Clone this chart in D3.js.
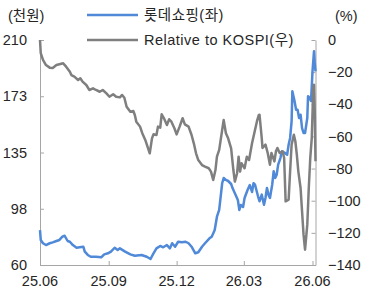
<!DOCTYPE html>
<meta charset="utf-8">
<style>
  body { margin: 0; background: #fff; }
  text { font-family: "Liberation Sans", Arial, "Noto Sans CJK KR", sans-serif; fill: #262626; }
  .axis .domain, .axis line { stroke: #a6a6a6; }
</style>
<svg width="367" height="291"></svg>
<script src="https://d3js.org/d3.v7.min.js"></script>
<script>

// 롯데쇼핑 share price (천원), left axis
var priceDates = ["2025-06-01","2025-06-02","2025-06-05","2025-06-09","2025-06-14","2025-06-18","2025-06-23","2025-06-27",
  "2025-07-01","2025-07-04","2025-07-08","2025-07-11","2025-07-15","2025-07-20","2025-07-24","2025-07-29","2025-07-31",
  "2025-08-04","2025-08-08","2025-08-15","2025-08-22","2025-08-26","2025-08-31","2025-09-04","2025-09-09","2025-09-13",
  "2025-09-16","2025-09-23","2025-09-30","2025-10-06","2025-10-15","2025-10-22","2025-10-27","2025-10-31","2025-11-04",
  "2025-11-09","2025-11-13","2025-11-18","2025-11-22","2025-11-25","2025-11-29","2025-12-03","2025-12-08","2025-12-13",
  "2025-12-17","2025-12-21","2025-12-26","2025-12-30","2026-01-04","2026-01-08","2026-01-14","2026-01-17","2026-01-21",
  "2026-01-24","2026-01-27","2026-01-31","2026-02-02","2026-02-05","2026-02-08","2026-02-12","2026-02-14","2026-02-17",
  "2026-02-21","2026-02-23","2026-02-25","2026-02-28","2026-03-02","2026-03-06","2026-03-09","2026-03-12","2026-03-14",
  "2026-03-16","2026-03-20","2026-03-22","2026-03-25","2026-03-28","2026-03-30","2026-04-01","2026-04-03","2026-04-05",
  "2026-04-08","2026-04-10","2026-04-12","2026-04-14","2026-04-16","2026-04-19","2026-04-21","2026-04-25","2026-04-28",
  "2026-04-30","2026-05-02","2026-05-04","2026-05-05","2026-05-08","2026-05-10","2026-05-12","2026-05-14","2026-05-16",
  "2026-05-18","2026-05-20","2026-05-22","2026-05-25","2026-05-26","2026-05-28","2026-05-30","2026-06-01","2026-06-03",
  "2026-06-04","2026-06-05"];
var priceValues = [83.3,76.7,74.5,73.3,74.5,75.1,76.0,76.7,
  78.9,79.5,76.0,75.5,73.3,71.5,71.8,72.2,68.9,
  66.7,65.5,65.5,65.1,67.1,67.8,68.9,71.5,70.0,
  71.1,68.9,67.1,66.2,66.7,65.5,64.0,67.8,71.1,
  72.7,71.8,73.3,71.1,74.5,72.2,75.5,75.1,75.5,
  74.5,72.2,67.8,68.5,72.2,74.5,77.8,78.9,83.3,
  92.2,96.7,114.5,118.0,116.7,116.0,114.0,111.1,107.8,
  103.3,96.7,100.0,98.7,104.7,110.0,113.3,108.7,114.5,
  113.5,105.8,102.5,106.9,100.2,104.7,111.3,106.9,104.7,
  113.5,122.5,118.0,120.2,126.9,131.3,135.8,134.7,133.5,
  140.2,144.7,155.8,175.8,169.1,163.5,163.5,158.0,160.2,
  151.3,148.0,148.0,158.0,172.5,171.5,169.3,189.1,202.5,
  194.7,189.1];

// Relative to KOSPI (%), right axis
var relDates = ["2025-06-01","2025-06-02","2025-06-05","2025-06-09","2025-06-14","2025-06-18","2025-06-23","2025-06-27",
  "2025-07-02","2025-07-06","2025-07-11","2025-07-13","2025-07-17","2025-07-22","2025-07-25","2025-07-28","2025-08-02",
  "2025-08-06","2025-08-11","2025-08-15","2025-08-20","2025-08-24","2025-08-29","2025-09-02","2025-09-07","2025-09-11",
  "2025-09-16","2025-09-19","2025-09-22","2025-09-25","2025-09-30","2025-10-04","2025-10-06","2025-10-08","2025-10-13",
  "2025-10-16","2025-10-20","2025-10-23","2025-10-26","2025-10-29","2025-10-31","2025-11-04","2025-11-06","2025-11-09",
  "2025-11-11","2025-11-14","2025-11-18","2025-11-21","2025-11-24","2025-11-28","2025-12-01","2025-12-05","2025-12-09",
  "2025-12-12","2025-12-17","2025-12-21","2025-12-24","2025-12-27","2025-12-30","2026-01-04","2026-01-08","2026-01-13",
  "2026-01-16","2026-01-19","2026-01-22","2026-01-24","2026-01-27","2026-01-31","2026-02-02","2026-02-05","2026-02-08",
  "2026-02-12","2026-02-15","2026-02-17","2026-02-20","2026-02-22","2026-02-24","2026-02-26","2026-03-02","2026-03-05",
  "2026-03-08","2026-03-12","2026-03-15","2026-03-19","2026-03-21","2026-03-22","2026-03-25","2026-03-26","2026-03-30",
  "2026-04-02","2026-04-05","2026-04-07","2026-04-11","2026-04-13","2026-04-15","2026-04-18","2026-04-22","2026-04-24",
  "2026-04-26","2026-04-30","2026-05-02","2026-05-04","2026-05-07","2026-05-09","2026-05-11","2026-05-13","2026-05-16",
  "2026-05-18","2026-05-20","2026-05-22","2026-05-25","2026-05-27","2026-05-29","2026-05-31","2026-06-02","2026-06-03",
  "2026-06-04","2026-06-05"];
var relValues = [0,-8.1,-12.4,-15.6,-17.2,-17.4,-15.6,-15.1,
  -14.5,-16.6,-19.7,-21.8,-22.8,-24.9,-23.8,-25.9,-28.0,
  -31.1,-30.1,-31.1,-32.2,-31.1,-33.2,-35.3,-33.8,-35.3,
  -35.7,-34.2,-35.9,-41.5,-44.6,-44.2,-46.7,-50.8,-53.9,
  -58.0,-62.2,-66.4,-70.5,-61.2,-58.7,-59.1,-53.9,-54.6,
  -46.2,-48.7,-52.9,-49.3,-50.8,-54.9,-58.7,-53.9,-48.7,
  -52.5,-53.9,-59.1,-64.3,-70.5,-74.7,-77.8,-78.8,-79.8,
  -81.9,-87.1,-80.9,-72.6,-68.4,-56.0,-49.8,-58.0,-61.2,
  -67.4,-80.9,-88.1,-82.9,-72.6,-81.9,-76.7,-79.8,-72.6,
  -74.7,-64.3,-58.0,-49.8,-46.7,-46.5,-61.0,-67.2,-65.1,
  -70.3,-77.6,-70.3,-75.5,-69.3,-67.2,-70.3,-69.3,-73.4,
  -100.4,-99.4,-81.7,-65.1,-58.9,-63.0,-71.4,-81.7,-92.1,
  -106.6,-121.1,-130.5,-114.9,-92.1,-73.4,-61.0,-29.9,-27.8,
  -44.4,-75.5];

var leftTicks = [60, 97.5, 135, 172.5, 210];
var leftTickLabels = ["60", "98", "135", "173", "210"];
var rightTicks = [0, -20, -40, -60, -80, -100, -120, -140];
var xTicks = ["2025-06-01", "2025-09-01", "2025-12-01", "2026-03-01", "2026-06-01"];

var parse = d3.timeParse("%Y-%m-%d");
var svg = d3.select("svg");

var plotLeft = 40, plotRight = 315.5, plotTop = 40, plotBottom = 265;
var fs = 14.5;

var x = d3.scaleTime()
    .domain([parse("2025-06-01"), parse("2026-06-05")])
    .range([plotLeft, plotRight]);
var yL = d3.scaleLinear().domain([60, 210]).range([plotBottom, plotTop]);
var yR = d3.scaleLinear().domain([-140, 0]).range([plotBottom, plotTop]);

// axes, ticks pointing into the plot
svg.append("g").attr("class", "axis")
    .attr("transform", "translate(" + plotLeft + ",0)")
    .call(d3.axisRight(yL).tickValues(leftTicks).tickSize(4).tickSizeOuter(0).tickFormat(""));
svg.append("g").attr("class", "axis")
    .attr("transform", "translate(" + plotRight + ",0)")
    .call(d3.axisLeft(yR).tickValues(rightTicks).tickSize(4).tickSizeOuter(0).tickFormat(""));
svg.append("g").attr("class", "axis")
    .attr("transform", "translate(0," + plotBottom + ")")
    .call(d3.axisTop(x).tickValues(xTicks.map(parse)).tickSize(4).tickSizeOuter(0).tickFormat(""));

// tick labels
svg.append("g").selectAll("text").data(leftTicks).enter().append("text")
    .attr("x", 27).attr("y", d => yL(d)).attr("dy", "0.35em")
    .attr("text-anchor", "end").attr("font-size", fs)
    .text((d, i) => leftTickLabels[i]);
svg.append("g").selectAll("text").data(rightTicks).enter().append("text")
    .attr("x", 328).attr("y", d => yR(d)).attr("dy", "0.35em")
    .attr("font-size", fs)
    .text(d => d < 0 ? "\u2212" + (-d) : d);
svg.append("g").selectAll("text").data(xTicks).enter().append("text")
    .attr("x", d => x(parse(d))).attr("y", 281).attr("dy", "0.35em")
    .attr("text-anchor", "middle").attr("font-size", fs)
    .text(d => d3.timeFormat("%y.%m")(parse(d)));

svg.append("text").attr("x", 8).attr("y", 16).attr("dy", "0.35em").attr("font-size", fs).text("(천원)");
svg.append("text").attr("x", 335).attr("y", 16).attr("dy", "0.35em").attr("font-size", fs).text("(%)");

// lines
var priceLine = d3.line().x((d, i) => x(parse(priceDates[i]))).y(d => yL(d));
var relLine = d3.line().x((d, i) => x(parse(relDates[i]))).y(d => yR(d));

svg.append("path").datum(priceValues)
    .attr("d", priceLine).attr("fill", "none")
    .attr("stroke", "#4f89d8").attr("stroke-width", 2.5).attr("stroke-linejoin", "round");
svg.append("path").datum(relValues)
    .attr("d", relLine).attr("fill", "none")
    .attr("stroke", "#7f7f7f").attr("stroke-width", 2.5).attr("stroke-linejoin", "round");

// legend
var legend = [
  {name: "롯데쇼핑(좌)", color: "#4f89d8", y: 15},
  {name: "Relative to KOSPI(우)", color: "#7f7f7f", y: 40}
];
var lg = svg.append("g").selectAll("g").data(legend).enter().append("g");
lg.append("line").attr("x1", 87).attr("x2", 138)
    .attr("y1", d => d.y).attr("y2", d => d.y)
    .attr("stroke", d => d.color).attr("stroke-width", 2.5);
lg.append("rect").attr("x", 142).attr("y", d => d.y - 9).attr("width", 154).attr("height", 18).attr("fill", "#fff");
lg.append("text").attr("x", 144).attr("y", d => d.y).attr("dy", "0.35em")
    .attr("font-size", fs).attr("letter-spacing", 0.5).text(d => d.name);

</script>
